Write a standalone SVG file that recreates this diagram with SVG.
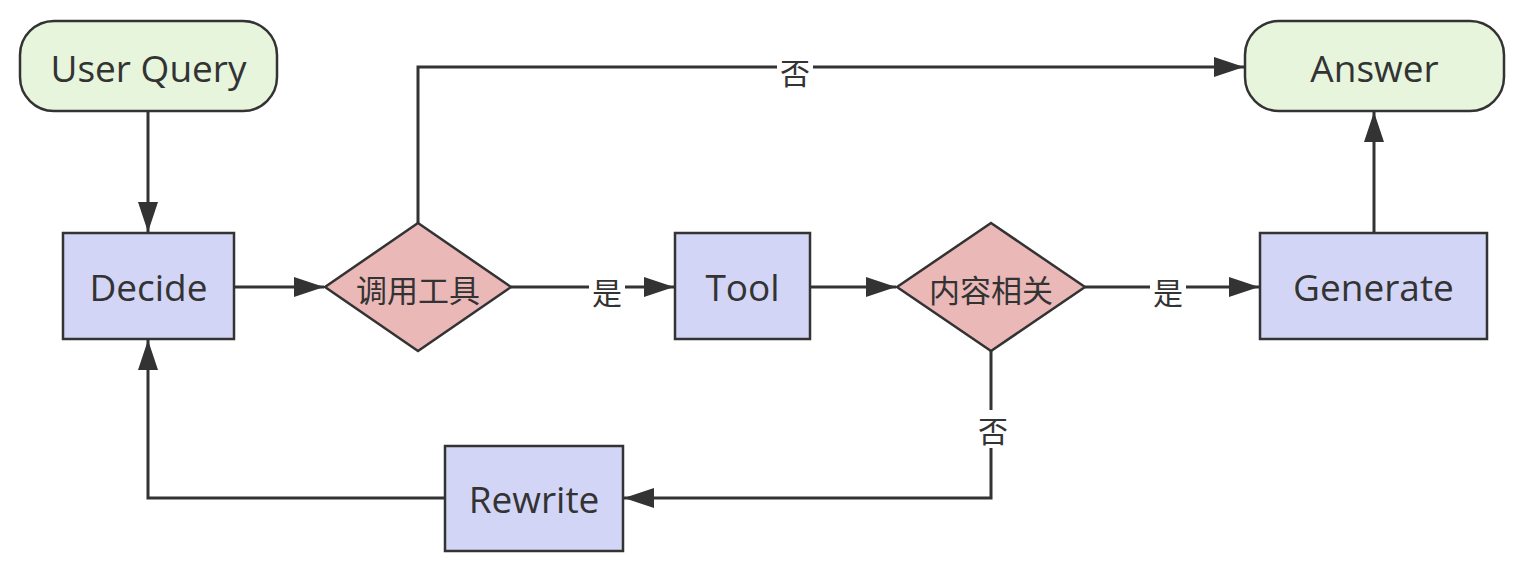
<svg xmlns="http://www.w3.org/2000/svg" width="1522" height="572" viewBox="0 0 1522 572">
<style>
.term{fill:#e6f5dc;stroke:#333;stroke-width:2.5}
.proc{fill:#d3d5f6;stroke:#333;stroke-width:2.5}
.dec{fill:#ebb8b8;stroke:#333;stroke-width:2.5}
.t{font-family:"Open Sans","Noto Sans",sans-serif;font-size:37px;fill:#333;text-anchor:middle;dominant-baseline:central}
.c{font-family:"Noto Sans CJK SC","Noto Sans",sans-serif;font-size:31px;fill:#333;text-anchor:middle;dominant-baseline:central}
.l{font-family:"Noto Sans CJK SC","Noto Sans",sans-serif;font-size:30px;fill:#333;text-anchor:middle;dominant-baseline:central}
.e{fill:none;stroke:#333;stroke-width:3}
.lb{fill:#fff}
</style>
<defs>
<marker id="ah" viewBox="0 0 30 20" refX="30" refY="10" markerWidth="30" markerHeight="20" markerUnits="userSpaceOnUse" orient="auto">
<path d="M0,0 L30,10 L0,20 z" fill="#333"/>
</marker>
</defs>
<rect width="1522" height="572" fill="#fff"/>
<g id="edges">
<path class="e" d="M148,111 V232" marker-end="url(#ah)"/>
<path class="e" d="M234,287 H324" marker-end="url(#ah)"/>
<path class="e" d="M418,223 V67 H1244" marker-end="url(#ah)"/>
<path class="e" d="M511,287 H674" marker-end="url(#ah)"/>
<path class="e" d="M810,287 H896" marker-end="url(#ah)"/>
<path class="e" d="M1085,287 H1259" marker-end="url(#ah)"/>
<path class="e" d="M1374,233 V112" marker-end="url(#ah)"/>
<path class="e" d="M991,351 V498 H624" marker-end="url(#ah)"/>
<path class="e" d="M445,498 H148 V340" marker-end="url(#ah)"/>
<rect class="lb" x="777" y="52" width="36" height="36"/>
<text class="l" x="795" y="71">否</text>
<rect class="lb" x="589" y="272" width="36" height="36"/>
<text class="l" x="607" y="291">是</text>
<rect class="lb" x="1150" y="272" width="36" height="36"/>
<text class="l" x="1168" y="291">是</text>
<rect class="lb" x="975" y="410" width="36" height="38"/>
<text class="l" x="993" y="429">否</text>
</g>
<g id="userquery">
<rect class="term" x="20" y="21" width="257" height="90" rx="34" ry="34"/>
<text class="t" x="148.5" y="67">User Query</text>
</g>
<g id="answer">
<rect class="term" x="1245" y="21" width="259" height="90" rx="34" ry="34"/>
<text class="t" x="1374.5" y="67">Answer</text>
</g>
<g id="decide">
<rect class="proc" x="63" y="233" width="171" height="106"/>
<text class="t" x="148.5" y="286">Decide</text>
</g>
<g id="usetool">
<polygon class="dec" points="418,223 511,287 418,351 325,287"/>
<text class="c" x="418" y="288">调用工具</text>
</g>
<g id="tool">
<rect class="proc" x="675" y="233" width="135" height="106"/>
<text class="t" x="742.5" y="286">Tool</text>
</g>
<g id="relevant">
<polygon class="dec" points="991,223 1085,287 991,351 897,287"/>
<text class="c" x="991" y="288">内容相关</text>
</g>
<g id="generate">
<rect class="proc" x="1260" y="233" width="227" height="106"/>
<text class="t" x="1373.5" y="286">Generate</text>
</g>
<g id="rewrite">
<rect class="proc" x="445" y="446" width="178" height="105"/>
<text class="t" x="534" y="498">Rewrite</text>
</g>
</svg>
